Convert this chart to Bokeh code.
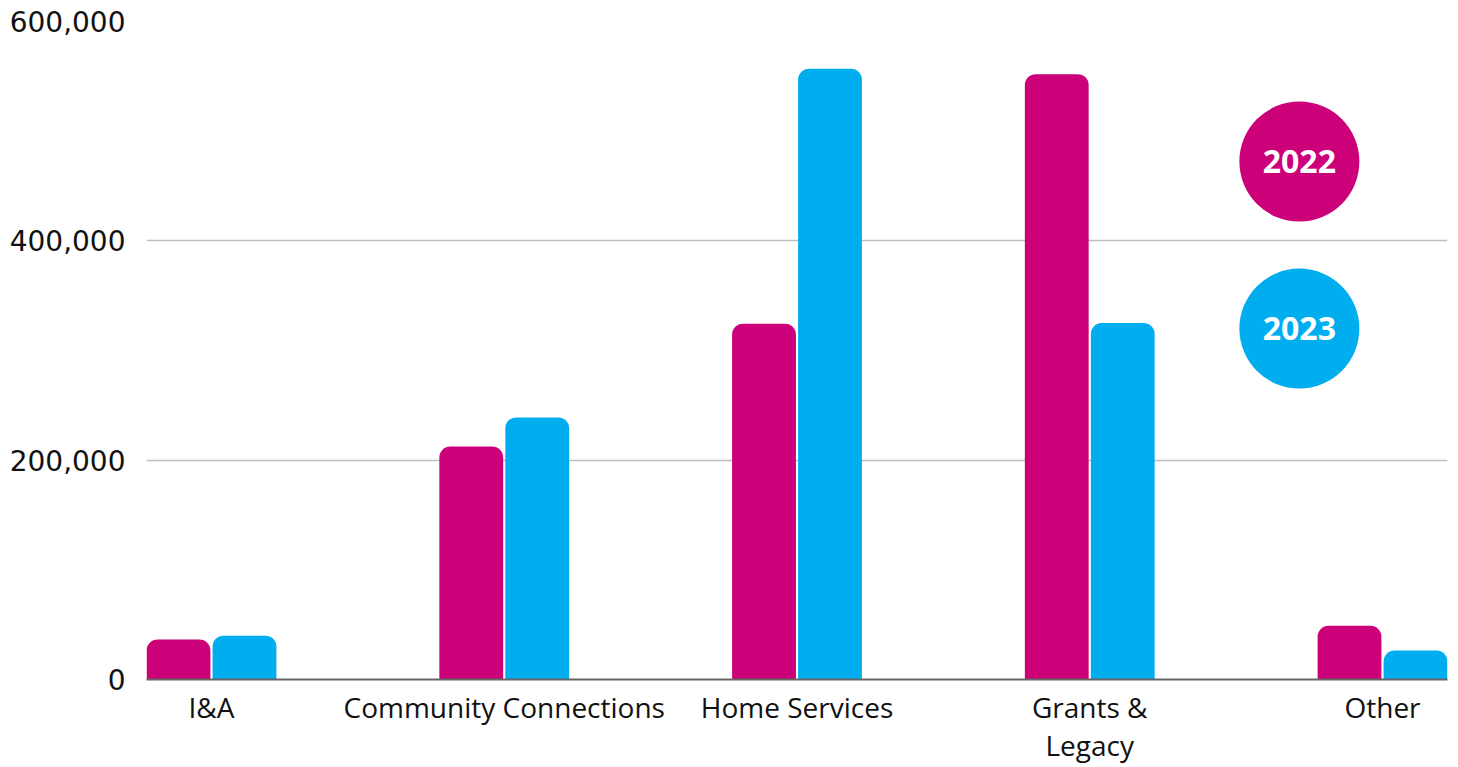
from bokeh.plotting import figure
from bokeh.models import ColumnDataSource, Range1d, FixedTicker, NumeralTickFormatter
from bokeh.transform import dodge
from bokeh.core.properties import value
from bokeh.embed import file_html
from bokeh.resources import INLINE

categories = ["I&A", "Community Connections", "Home Services", "Grants &\nLegacy", "Other"]
values_2022 = [36500, 212500, 324500, 552000, 49000]
values_2023 = [40000, 239000, 557000, 325000, 26500]
years = ["2022", "2023"]
y_ticks = [0, 200000, 400000, 600000]

MAGENTA = "#CC0079"
CYAN = "#00AEEF"
FONT = "Open Sans"

idx = list(range(len(categories)))
src = ColumnDataSource(dict(x=idx, v22=values_2022, v23=values_2023))

p = figure(width=1458, height=767, output_backend="svg", toolbar_location=None,
           x_range=Range1d(-0.222, len(categories) - 1 + 0.222),
           y_range=Range1d(0, 600000),
           min_border_left=146, min_border_right=11, min_border_top=21, min_border_bottom=88)
p.outline_line_color = None
p.background_fill_color = "white"
p.border_fill_color = "white"

bw = 0.218
off = 0.1127
p.vbar(x=dodge("x", -off, range=p.x_range), top="v22", width=bw, source=src,
       fill_color=MAGENTA, line_color=None, border_radius=(11, 11, 0, 0))
p.vbar(x=dodge("x", off, range=p.x_range), top="v23", width=bw, source=src,
       fill_color=CYAN, line_color=None, border_radius=(11, 11, 0, 0))

# legend badges
leg = ColumnDataSource(dict(x=[3.716, 3.716], y=[472300, 320000], t=years, c=[MAGENTA, CYAN]))
p.scatter(x="x", y="y", size=120, marker="circle", fill_color="c", line_color=None, source=leg)
p.text(x="x", y="y", text="t", source=leg, text_color="white", text_font=value(FONT),
       text_font_style="bold", text_font_size="32px", text_align="center", text_baseline="middle")

# axes
p.xaxis.ticker = FixedTicker(ticks=idx)
p.xaxis.major_label_overrides = {i: c for i, c in zip(idx, categories)}
p.xaxis.major_tick_line_color = None
p.xaxis.minor_tick_line_color = None
p.xaxis.axis_line_color = "#666666"
p.xaxis.axis_line_width = 2
p.xaxis.major_label_text_font = FONT
p.xaxis.major_label_text_font_size = "28px"
p.xaxis.major_label_text_line_height = 1.0
p.xaxis.major_label_text_color = "#111111"
p.xaxis.major_label_standoff = 2

p.yaxis.ticker = FixedTicker(ticks=y_ticks)
p.yaxis.formatter = NumeralTickFormatter(format="0,0")
p.yaxis.axis_line_color = None
p.yaxis.major_tick_line_color = None
p.yaxis.minor_tick_line_color = None
p.yaxis.major_label_text_font = "DejaVu Sans"
p.yaxis.major_label_text_font_size = "28px"
p.yaxis.major_label_text_color = "#111111"
p.yaxis.major_label_standoff = 15

p.xgrid.grid_line_color = None
p.ygrid.grid_line_color = "#BFBFBF"
p.ygrid.grid_line_width = 1.5

open("out.html", "w").write(file_html(p, INLINE))
